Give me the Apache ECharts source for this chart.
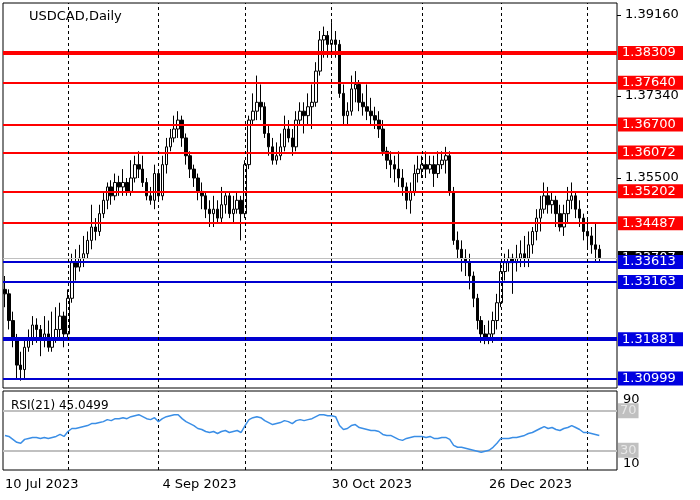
<!DOCTYPE html>
<html>
<head>
<meta charset="utf-8">
<script src="https://cdn.jsdelivr.net/npm/echarts@6/dist/echarts.min.js"></script>
<style>html,body{margin:0;padding:0;background:#fff}#chart{width:700px;height:500px}</style>
</head>
<body>
<div id="chart"></div>
<script>
// candles: [open, close, low, high]
const candles = [
  [1.3300,1.3290,1.3260,1.3330],[1.3290,1.3230,1.3210,1.3300],[1.3230,1.3190,1.3170,1.3250],[1.3190,1.3130,1.3100,1.3200],
  [1.3130,1.3120,1.3095,1.3160],[1.3120,1.3170,1.3100,1.3185],[1.3170,1.3190,1.3160,1.3210],[1.3190,1.3220,1.3175,1.3240],
  [1.3220,1.3210,1.3180,1.3235],[1.3210,1.3190,1.3150,1.3220],[1.3190,1.3200,1.3170,1.3240],[1.3200,1.3170,1.3160,1.3230],
  [1.3170,1.3190,1.3160,1.3250],[1.3190,1.3210,1.3180,1.3260],[1.3210,1.3240,1.3190,1.3270],[1.3240,1.3200,1.3170,1.3250],
  [1.3200,1.3280,1.3190,1.3300],[1.3280,1.3360,1.3270,1.3380],[1.3360,1.3350,1.3320,1.3390],[1.3350,1.3370,1.3340,1.3400],
  [1.3370,1.3380,1.3350,1.3420],[1.3380,1.3410,1.3370,1.3430],[1.3410,1.3440,1.3390,1.3490],[1.3440,1.3430,1.3410,1.3460],
  [1.3430,1.3470,1.3420,1.3490],[1.3470,1.3500,1.3460,1.3520],[1.3500,1.3530,1.3480,1.3540],[1.3530,1.3510,1.3490,1.3545],
  [1.3510,1.3540,1.3500,1.3560],[1.3540,1.3530,1.3510,1.3555],[1.3530,1.3540,1.3510,1.3570],[1.3540,1.3520,1.3510,1.3550],
  [1.3520,1.3550,1.3510,1.3590],[1.3550,1.3580,1.3540,1.3600],[1.3580,1.3570,1.3550,1.3610],[1.3570,1.3540,1.3530,1.3600],
  [1.3540,1.3510,1.3500,1.3550],[1.3510,1.3500,1.3490,1.3530],[1.3500,1.3560,1.3480,1.3580],[1.3560,1.3510,1.3500,1.3570],
  [1.3510,1.3580,1.3500,1.3600],[1.3580,1.3620,1.3560,1.3640],[1.3620,1.3640,1.3610,1.3660],[1.3640,1.3660,1.3630,1.3690],
  [1.3660,1.3680,1.3640,1.3700],[1.3680,1.3640,1.3620,1.3690],[1.3640,1.3600,1.3580,1.3650],[1.3600,1.3570,1.3550,1.3610],
  [1.3570,1.3550,1.3530,1.3580],[1.3550,1.3520,1.3500,1.3560],[1.3520,1.3510,1.3480,1.3540],[1.3510,1.3480,1.3460,1.3520],
  [1.3480,1.3470,1.3440,1.3500],[1.3470,1.3480,1.3440,1.3510],[1.3480,1.3460,1.3450,1.3500],[1.3460,1.3490,1.3450,1.3530],
  [1.3490,1.3510,1.3470,1.3520],[1.3510,1.3470,1.3460,1.3520],[1.3470,1.3480,1.3450,1.3510],[1.3480,1.3500,1.3470,1.3520],
  [1.3500,1.3470,1.3410,1.3510],[1.3470,1.3580,1.3460,1.3590],[1.3580,1.3680,1.3570,1.3690],[1.3680,1.3700,1.3670,1.3740],
  [1.3700,1.3720,1.3680,1.3780],[1.3720,1.3710,1.3680,1.3760],[1.3710,1.3650,1.3640,1.3720],[1.3650,1.3620,1.3600,1.3670],
  [1.3620,1.3590,1.3580,1.3640],[1.3590,1.3600,1.3580,1.3630],[1.3600,1.3620,1.3590,1.3650],[1.3620,1.3660,1.3610,1.3690],
  [1.3660,1.3640,1.3630,1.3680],[1.3640,1.3620,1.3600,1.3660],[1.3620,1.3680,1.3610,1.3700],[1.3680,1.3700,1.3670,1.3720],
  [1.3700,1.3690,1.3650,1.3720],[1.3690,1.3710,1.3670,1.3740],[1.3710,1.3720,1.3660,1.3760],[1.3720,1.3790,1.3710,1.3810],
  [1.3790,1.3860,1.3780,1.3880],[1.3860,1.3870,1.3820,1.3890],[1.3870,1.3850,1.3820,1.3880],[1.3850,1.3860,1.3830,1.3900],
  [1.3860,1.3850,1.3820,1.3880],[1.3850,1.3740,1.3730,1.3860],[1.3740,1.3690,1.3670,1.3760],[1.3690,1.3700,1.3670,1.3720],
  [1.3700,1.3750,1.3690,1.3780],[1.3750,1.3760,1.3720,1.3790],[1.3760,1.3720,1.3700,1.3770],[1.3720,1.3710,1.3690,1.3740],
  [1.3710,1.3700,1.3680,1.3760],[1.3700,1.3690,1.3670,1.3730],[1.3690,1.3680,1.3660,1.3710],[1.3680,1.3660,1.3640,1.3700],
  [1.3660,1.3610,1.3600,1.3680],[1.3610,1.3590,1.3570,1.3620],[1.3590,1.3580,1.3550,1.3610],[1.3580,1.3570,1.3540,1.3600],
  [1.3570,1.3550,1.3530,1.3610],[1.3550,1.3530,1.3510,1.3570],[1.3530,1.3500,1.3480,1.3540],[1.3500,1.3520,1.3470,1.3540],
  [1.3520,1.3560,1.3510,1.3580],[1.3560,1.3570,1.3540,1.3600],[1.3570,1.3580,1.3550,1.3600],[1.3580,1.3570,1.3550,1.3610],
  [1.3570,1.3580,1.3560,1.3600],[1.3580,1.3560,1.3530,1.3600],[1.3560,1.3580,1.3550,1.3610],[1.3580,1.3590,1.3570,1.3610],
  [1.3590,1.3600,1.3560,1.3620],[1.3600,1.3520,1.3510,1.3610],[1.3520,1.3410,1.3400,1.3530],[1.3410,1.3390,1.3370,1.3430],
  [1.3390,1.3370,1.3340,1.3410],[1.3370,1.3360,1.3330,1.3390],[1.3360,1.3330,1.3300,1.3380],[1.3330,1.3280,1.3260,1.3340],
  [1.3280,1.3230,1.3210,1.3290],[1.3230,1.3200,1.3180,1.3240],[1.3200,1.3190,1.3177,1.3220],[1.3190,1.3200,1.3177,1.3230],
  [1.3200,1.3230,1.3180,1.3250],[1.3230,1.3270,1.3210,1.3290],[1.3270,1.3340,1.3260,1.3360],[1.3340,1.3360,1.3320,1.3380],
  [1.3360,1.3370,1.3340,1.3390],[1.3370,1.3360,1.3290,1.3380],[1.3360,1.3370,1.3340,1.3400],[1.3370,1.3380,1.3350,1.3410],
  [1.3380,1.3370,1.3350,1.3420],[1.3370,1.3400,1.3350,1.3430],[1.3400,1.3430,1.3380,1.3440],[1.3430,1.3460,1.3410,1.3480],
  [1.3460,1.3480,1.3430,1.3510],[1.3480,1.3510,1.3470,1.3540],[1.3510,1.3490,1.3470,1.3530],[1.3490,1.3500,1.3470,1.3520],
  [1.3500,1.3470,1.3440,1.3510],[1.3470,1.3440,1.3430,1.3490],[1.3440,1.3470,1.3420,1.3490],[1.3470,1.3500,1.3450,1.3530],
  [1.3500,1.3510,1.3480,1.3540],[1.3510,1.3480,1.3460,1.3520],[1.3480,1.3460,1.3440,1.3500],[1.3460,1.3430,1.3410,1.3470],
  [1.3430,1.3420,1.3390,1.3460],[1.3420,1.3400,1.3380,1.3440],[1.3400,1.3390,1.3360,1.3450],[1.3390,1.3371,1.3360,1.3400]
];

const rsi = [
  45,44,41,38,37,41,42,43,43,42, 43,42,43,44,46,44,49,52,52,53,
  54,55,57,57,58,59,61,60,62,62, 63,62,64,65,66,64,62,61,63,59,
  62,64,65,66,66,62,59,57,55,52, 51,49,48,49,47,49,50,48,49,50,
  48,55,61,63,64,63,60,58,56,57, 58,60,59,57,60,61,60,61,62,64,
  66,66,65,65,64,55,51,52,55,56, 53,52,51,50,50,49,46,45,45,43,
  41,40,42,43,44,44,44,43,44,42, 42,43,43,41,35,33,33,32,31,30,
  29,28,29,30,33,37,42,42,42,43, 43,44,45,47,48,50,52,54,52,53,
  51,50,52,53,55,53,51,48,48,47,46,45
];

const totalSlots = 156;
const dateLabels = { 0: '10 Jul 2023', 40: '4 Sep 2023', 83: '30 Oct 2023', 123: '26 Dec 2023' };
const monthStarts = [16, 39, 61, 83, 106, 126, 148];
const priceTicks = [1.3916, 1.3734, 1.355];
const resistance = [1.38309, 1.3764, 1.367, 1.36072, 1.35202, 1.34487];
const support = [1.33613, 1.33163, 1.31881, 1.30999];
const thickLevels = [1.38309, 1.31881];
const lastPrice = 1.33707;
const rsiLevels = [70, 30];
const rsiTicks = { 81: '90', 16: '10' };

const categories = [];
for (let i = 0; i < totalSlots; i++) categories.push(String(i));

const FONT = 'DejaVu Sans';
const boxLabel = (bg, fg) => ({
  show: true, position: 'end', distance: 1, formatter: p => p.value.toFixed(5),
  backgroundColor: bg, color: fg, fontFamily: FONT, fontSize: 13,
  padding: [1, 3, 0, 4], width: 58
});

const levelLines = [
  { yAxis: lastPrice, lineStyle: { color: '#c0c0c0', type: 'solid', width: 1 }, label: boxLabel('#000', '#fff') },
  ...resistance.map(v => ({ yAxis: v, lineStyle: { color: '#f00', type: 'solid', width: thickLevels.includes(v) ? 4 : 2 }, label: boxLabel('#f00', '#fff') })),
  ...support.map(v => ({ yAxis: v, lineStyle: { color: '#0000d0', type: 'solid', width: thickLevels.includes(v) ? 4 : 2 }, label: boxLabel('#0000e0', '#fff') }))
];

const vLines = monthStarts.map(i => ({ xAxis: String(i) }));
const vLineStyle = { color: '#000', type: [3, 3], width: 1 };

const chart = echarts.init(document.getElementById('chart'));
chart.setOption({
  animation: false,
  title: [
    { text: 'USDCAD,Daily', left: 24, top: 5, textStyle: { fontFamily: FONT, fontSize: 13, fontWeight: 'normal', color: '#000' } },
    { text: 'RSI(21) 45.0499', left: 6, top: 395, textStyle: { fontFamily: FONT, fontSize: 12, fontWeight: 'normal', color: '#000' } }
  ],
  grid: [
    { left: 3, right: 83, top: 3, height: 385, show: true, borderColor: '#000', borderWidth: 1 },
    { left: 3, right: 83, top: 391, height: 79, show: true, borderColor: '#000', borderWidth: 1 }
  ],
  xAxis: [
    { type: 'category', gridIndex: 0, data: categories, boundaryGap: true,
      axisLine: { show: false }, axisTick: { show: false }, axisLabel: { show: false }, splitLine: { show: false } },
    { type: 'category', gridIndex: 1, data: categories, boundaryGap: true,
      axisLine: { show: false }, axisTick: { show: false }, splitLine: { show: false },
      axisLabel: { interval: 0, align: 'left', margin: 8, fontFamily: FONT, fontSize: 13, color: '#000',
        formatter: (v, i) => dateLabels[i] || '' } }
  ],
  yAxis: [
    { type: 'value', gridIndex: 0, position: 'right', min: 1.30786, max: 1.39429, scale: true,
      splitLine: { show: false }, axisLine: { show: false },
      axisTick: { show: true, customValues: priceTicks, length: 4, lineStyle: { color: '#000' } },
      axisLabel: { customValues: priceTicks, margin: 8, fontFamily: FONT, fontSize: 13, color: '#000', formatter: v => v.toFixed(5) } },
    { type: 'value', gridIndex: 1, position: 'right', min: 10, max: 90,
      splitLine: { show: false }, axisLine: { show: false },
      axisTick: { show: false },
      axisLabel: { customValues: [81, 16], margin: 6, fontFamily: FONT, fontSize: 13, color: '#000',
        formatter: v => rsiTicks[Math.round(v)] || '' } }
  ],
  series: [
    {
      type: 'candlestick', xAxisIndex: 0, yAxisIndex: 0, data: candles, barWidth: 3,
      itemStyle: { color: '#fff', color0: '#000', borderColor: '#000', borderColor0: '#000', borderWidth: 1 },
      markLine: { silent: true, symbol: 'none', precision: 5, data: levelLines, z: 5 }
    },
    {
      type: 'line', xAxisIndex: 0, yAxisIndex: 0, data: [], silent: true,
      markLine: { silent: true, symbol: 'none', label: { show: false }, lineStyle: vLineStyle, data: vLines }
    },
    {
      type: 'line', xAxisIndex: 1, yAxisIndex: 1, data: rsi, symbol: 'none', z: 3,
      lineStyle: { color: '#3a8ee6', width: 1.5 },
      markLine: {
        silent: true, symbol: 'none', z: 1,
        data: [
          ...rsiLevels.map(v => ({ yAxis: v, lineStyle: { color: '#c0c0c0', width: 2, type: 'solid' },
            label: { show: true, position: 'end', distance: 1, formatter: String(v), backgroundColor: '#c0c0c0', color: '#e8e8e8',
              fontFamily: FONT, fontSize: 13, padding: [1, 2] } })),
          ...vLines.map(d => ({ ...d, lineStyle: vLineStyle, label: { show: false } }))
        ]
      }
    }
  ]
});
</script>
</body>
</html>
